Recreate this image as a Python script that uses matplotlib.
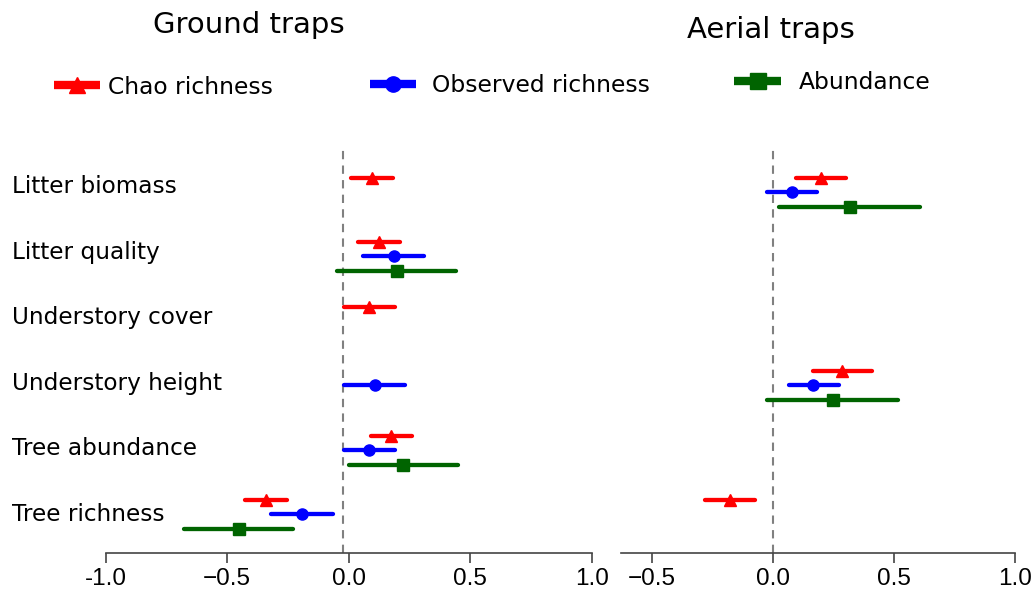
import matplotlib
matplotlib.use('Agg')
import numpy as np
import matplotlib.pyplot as plt
from matplotlib.lines import Line2D
from matplotlib.transforms import blended_transform_factory

# predictors, top to bottom
predictors = ['Litter biomass', 'Litter quality', 'Understory cover',
              'Understory height', 'Tree abundance', 'Tree richness']
nan = np.nan

# ground traps: estimate, lower, upper (nan = not in model)
ground_chao = [0.094, 0.123, 0.082, nan, 0.172, -0.34]
ground_chao_lo = [0.008, 0.037, -0.02, nan, 0.09, -0.426]
ground_chao_hi = [0.18, 0.209, 0.189, nan, 0.258, -0.254]
ground_obs = [nan, 0.184, nan, 0.107, 0.082, -0.193]
ground_obs_lo = [nan, 0.057, nan, -0.02, -0.02, -0.32]
ground_obs_hi = [nan, 0.311, nan, 0.23, 0.189, -0.066]
ground_abund = [nan, 0.197, nan, nan, 0.221, -0.451]
ground_abund_lo = [nan, -0.049, nan, nan, 0.0, -0.676]
ground_abund_hi = [nan, 0.439, nan, nan, 0.447, -0.23]

# aerial traps
aerial_chao = [0.198, nan, nan, 0.285, nan, -0.178]
aerial_chao_lo = [0.095, nan, nan, 0.165, nan, -0.281]
aerial_chao_hi = [0.302, nan, nan, 0.409, nan, -0.074]
aerial_obs = [0.079, nan, nan, 0.165, nan, nan]
aerial_obs_lo = [-0.025, nan, nan, 0.066, nan, nan]
aerial_obs_hi = [0.182, nan, nan, 0.273, nan, nan]
aerial_abund = [0.318, nan, nan, 0.248, nan, nan]
aerial_abund_lo = [0.025, nan, nan, -0.025, nan, nan]
aerial_abund_hi = [0.607, nan, nan, 0.517, nan, nan]

series_names = ['Chao richness', 'Observed richness', 'Abundance']
colors = ['#ff0000', '#0000ff', '#006400']
markers = ['^', 'o', 's']
offsets = [-0.22, 0.0, 0.23]

fig = plt.figure(figsize=(10.33, 5.97), dpi=100)
ax1 = fig.add_axes([0.1022, 0.0737, 0.4709, 0.675])
ax2 = fig.add_axes([0.601, 0.0737, 0.3816, 0.675])


def draw(ax, est, lo, hi, off, color, marker):
    est, lo, hi = np.array(est), np.array(lo), np.array(hi)
    ok = ~np.isnan(est)
    y = np.arange(len(predictors))[ok] + off
    eb = ax.errorbar(est[ok], y, xerr=[est[ok] - lo[ok], hi[ok] - est[ok]],
                     fmt=marker, color=color, ms=8, elinewidth=3.1,
                     capsize=0, zorder=3)
    eb[2][0].set_capstyle('round')


ground = [(ground_chao, ground_chao_lo, ground_chao_hi),
          (ground_obs, ground_obs_lo, ground_obs_hi),
          (ground_abund, ground_abund_lo, ground_abund_hi)]
aerial = [(aerial_chao, aerial_chao_lo, aerial_chao_hi),
          (aerial_obs, aerial_obs_lo, aerial_obs_hi),
          (aerial_abund, aerial_abund_lo, aerial_abund_hi)]

for i in range(3):
    draw(ax1, *ground[i], offsets[i], colors[i], markers[i])
    draw(ax2, *aerial[i], offsets[i], colors[i], markers[i])

# zero lines
ax1.axvline(-0.025, color='#808080', ls=(0, (4, 3)), lw=1.5, zorder=1)
ax2.axvline(0.0, color='#808080', ls=(0, (4, 3)), lw=1.5, zorder=1)

ax1.set_xlim(-1.0, 1.0)
ax2.set_xlim(-0.628, 1.0)
ax1.set_xticks([-1.0, -0.5, 0.0, 0.5, 1.0])
ax1.set_xticklabels(['-1.0', '\u22120.5', '0.0', '0.5', '1.0'])
ax2.set_xticks([-0.5, 0.0, 0.5, 1.0])
ax2.set_xticklabels(['\u22120.5', '0.0', '0.5', '1.0'])

for ax in (ax1, ax2):
    ax.set_ylim(5.6, -0.65)
    ax.set_yticks([])
    for s in ('left', 'right', 'top'):
        ax.spines[s].set_visible(False)
    ax.spines['bottom'].set_color('#444444')
    ax.spines['bottom'].set_linewidth(1.2)
    ax.tick_params(axis='x', length=7, width=1.2, color='#444444', pad=4,
                   labelsize=17.5)
    for lab in ax.get_xticklabels():
        lab.set_family('Liberation Sans')

trans = blended_transform_factory(fig.transFigure, ax1.transData)
for i, name in enumerate(predictors):
    ax1.text(0.012, i - 0.08 + 0.016 * i, name, transform=trans,
             ha='left', va='center', fontsize=16.7)

fig.text(0.241, 0.958, 'Ground traps', ha='center', va='center', fontsize=21)
fig.text(0.746, 0.949, 'Aerial traps', ha='center', va='center', fontsize=21)

leg_x = [0.052, 0.358, 0.711]
leg_y = [0.854, 0.856, 0.861]
text_pad = [0.34, 0.68, 0.77]
for i in range(3):
    h = Line2D([], [], color=colors[i], marker=markers[i], lw=6, ms=11,
               solid_capstyle='butt')
    fig.legend([h], [series_names[i]], loc='center left',
               bbox_to_anchor=(leg_x[i], leg_y[i]), frameon=False,
               fontsize=16.8, handlelength=2.0, handletextpad=text_pad[i],
               borderpad=0, borderaxespad=0)

plt.savefig('out.png', dpi=100)
